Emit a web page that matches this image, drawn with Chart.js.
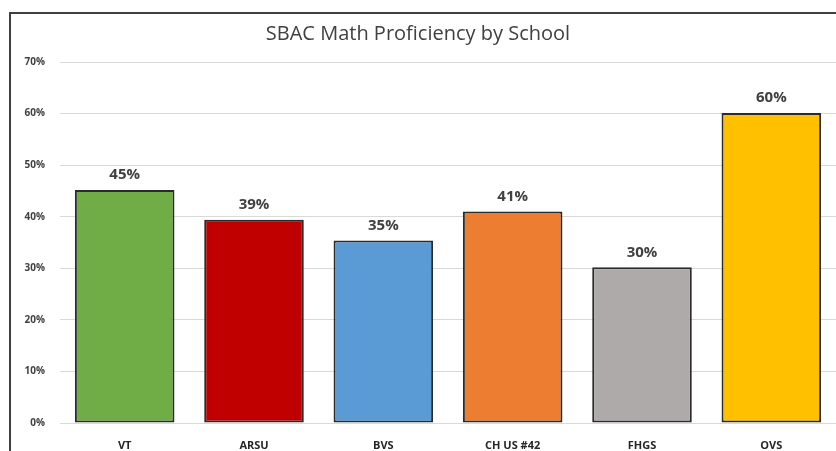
<!DOCTYPE html>
<html>
<head>
<meta charset="utf-8">
<script src="https://cdn.jsdelivr.net/npm/chart.js@4"></script>
<style>
  html, body { margin: 0; padding: 0; background: #fff; overflow: hidden; }
  #wrap { width: 836px; height: 451px; }
</style>
</head>
<body>
<div id="wrap"><canvas id="chart" width="836" height="451"></canvas></div>
<script>
const schools = ["VT", "ARSU", "BVS", "CH US #42", "FHGS", "OVS"];
const proficiency = [0.452, 0.394, 0.354, 0.41, 0.302, 0.601];
const barColors = ["#70AD47", "#C00000", "#5B9BD5", "#ED7D31", "#AEAAAA", "#FFC000"];
const yTicks = [0, 0.1, 0.2, 0.3, 0.4, 0.5, 0.6, 0.7];

const FONT = '"Open Sans", Lato, sans-serif';
const pct = v => Math.round(v * 100) + '%';

// outer frame, cropped on the right and bottom like the original
const framePlugin = {
  id: 'frame',
  beforeDraw(chart){
    const ctx = chart.ctx;
    ctx.save();
    ctx.fillStyle = '#fff';
    ctx.fillRect(0, 0, chart.width, chart.height);
    ctx.strokeStyle = '#404040';
    ctx.lineWidth = 2;
    ctx.strokeRect(10, 13, 1000, 600);
    ctx.restore();
  }
};

// value labels above each bar
const valueLabels = {
  id: 'valueLabels',
  afterDatasetsDraw(chart){
    const ctx = chart.ctx;
    const meta = chart.getDatasetMeta(0);
    ctx.save();
    ctx.font = 'bold 15px ' + FONT;
    ctx.fillStyle = '#404040';
    ctx.textAlign = 'center';
    ctx.textBaseline = 'middle';
    meta.data.forEach((bar, i) => {
      ctx.fillText(pct(proficiency[i]), bar.x, bar.y - 15);
    });
    ctx.restore();
  }
};

new Chart(document.getElementById('chart'), {
  type: 'bar',
  data: {
    labels: schools,
    datasets: [{
      data: proficiency,
      backgroundColor: barColors,
      borderColor: '#2b2b2b',
      borderWidth: 2,
      borderSkipped: false,
      categoryPercentage: 0.77,
      barPercentage: 1
    }]
  },
  options: {
    responsive: false,
    animation: false,
    devicePixelRatio: 1,
    layout: { padding: { left: 0, right: 0, top: 0, bottom: 0 } },
    plugins: {
      legend: { display: false },
      tooltip: { enabled: false },
      title: {
        display: true,
        text: 'SBAC Math Proficiency by School',
        color: '#404040',
        font: { family: FONT, size: 20, weight: 'normal' },
        padding: { top: 22, bottom: 16 }
      }
    },
    scales: {
      x: {
        grid: { display: false },
        border: { display: true, color: '#d9d9d9', width: 1 },
        ticks: {
          color: '#262626',
          font: { family: FONT, size: 11, weight: 'bold' },
          padding: 8,
          maxRotation: 0
        },
        afterFit(scale){ scale.height = 28; }
      },
      y: {
        min: 0,
        max: 0.7,
        afterBuildTicks(scale){ scale.ticks = yTicks.map(v => ({ value: v })); },
        grid: { color: '#d9d9d9', lineWidth: 1, drawTicks: false },
        border: { display: false },
        ticks: {
          color: '#404040',
          font: { family: FONT, size: 10, weight: 'bold' },
          padding: 15,
          callback: v => pct(v)
        },
        afterFit(scale){ scale.width = 60; }
      }
    }
  },
  plugins: [framePlugin, valueLabels]
});
</script>
</body>
</html>
